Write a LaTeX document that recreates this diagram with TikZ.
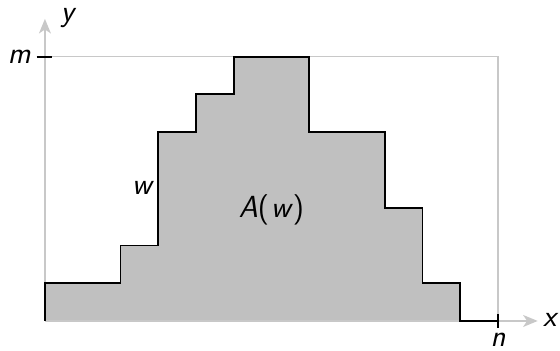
\documentclass[tikz,border=0pt]{standalone}
\usepackage{fontspec}
\usetikzlibrary{arrows.meta}
\definecolor{fillgray}{RGB}{192,192,192}
\definecolor{axisgray}{RGB}{200,200,200}
\begin{document}
\begin{tikzpicture}[
  axis/.style={draw=axisgray, line width=1.1pt, -{Stealth[length=11pt,width=9pt,inset=3pt]}},
  frame/.style={draw=axisgray, line width=1.1pt},
  profile/.style={draw=black, line width=1.4pt},
  lbl/.style={font=\fontsize{23}{26}\selectfont\sffamily\slshape, inner sep=1pt},
  tick/.style={draw=black, line width=1.4pt}
]
\useasboundingbox (-1.19,-0.795) rectangle (13.64,8.50);
\coordinate (O) at (0,0);
\coordinate (xend) at (13.05,0);
\coordinate (yend) at (0,8.0);
\coordinate (M) at (0,7);
\coordinate (N) at (12,0);
\coordinate (NM) at (12,7);
\fill[fillgray] (0,0) -- (0,1) -- (2,1) -- (2,2) -- (3,2) -- (3,5) -- (4,5) -- (4,6) -- (5,6) -- (5,7) -- (7,7) -- (7,5) -- (9,5) -- (9,3) -- (10,3) -- (10,1) -- (11,1) -- (11,0) -- cycle;
\draw[frame] (M) -- (NM) -- (N);
\draw[axis] (O) -- (xend);
\draw[axis] (O) -- (yend);
\draw[profile] (0,0) -- (0,1) -- (2,1) -- (2,2) -- (3,2) -- (3,5) -- (4,5) -- (4,6) -- (5,6) -- (5,7) -- (7,7) -- (7,5) -- (9,5) -- (9,3) -- (10,3) -- (10,1) -- (11,1) -- (11,0) -- (12,0);
\draw[tick] ([xshift=-0.22cm]M) -- ([xshift=0.18cm]M);
\draw[tick] ([yshift=-0.18cm]N) -- ([yshift=0.18cm]N);
\node[lbl] (mlbl) at (-0.68,7) {m};
\node[lbl] (nlbl) at (12,-0.5) {n};
\node[lbl] (xlbl) at (13.37,0.02) {x};
\node[lbl] (ylbl) at (0.6,8.02) {y};
\node[lbl] (wlbl) at (2.57,3.52) {w};
\node[lbl] (Albl) at (6.0,2.94) {A\textup{(}\kern0.06em w\textup{)}};
\end{tikzpicture}
\end{document}
